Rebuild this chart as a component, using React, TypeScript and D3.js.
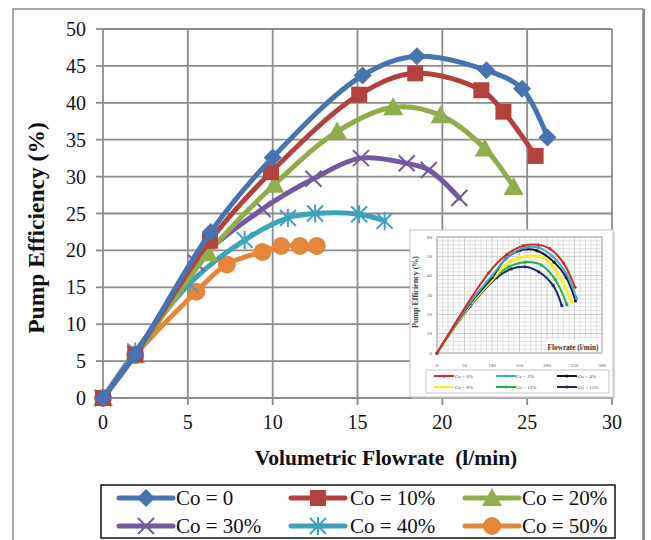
import React from "react";
import * as d3 from "d3";

// ---------- main chart data ----------
const xTicks = [0, 5, 10, 15, 20, 25, 30];
const yTicks = [0, 5, 10, 15, 20, 25, 30, 35, 40, 45, 50];

const flowCo0 = [0, 1.9, 6.35, 10, 15.3, 18.5, 22.6, 24.7, 26.2];
const effCo0 = [0, 5.9, 22.5, 32.6, 43.7, 46.3, 44.4, 41.9, 35.3];
const flowCo10 = [0, 1.9, 6.3, 9.9, 15.1, 18.4, 22.3, 23.6, 25.5];
const effCo10 = [0, 5.9, 21.3, 30.6, 41.1, 44.0, 41.7, 38.8, 32.8];
const flowCo20 = [0, 1.9, 6.2, 10.1, 13.8, 17.1, 19.9, 22.5, 24.2];
const effCo20 = [0, 5.8, 19.6, 28.9, 36.1, 39.4, 38.3, 33.8, 28.6];
const flowCo30 = [0, 1.9, 5.5, 9.4, 12.4, 15.2, 17.9, 19.2, 21.0];
const effCo30 = [0, 6.0, 18.3, 25.6, 29.7, 32.5, 31.8, 30.9, 27.1];
const flowCo40 = [0, 1.9, 5.1, 8.35, 10.9, 12.5, 15.1, 16.6];
const effCo40 = [0, 6.3, 15.5, 21.4, 24.4, 25.0, 24.9, 24.0];
const flowCo50 = [0, 1.9, 5.5, 7.3, 9.4, 10.5, 11.6, 12.6];
const effCo50 = [0, 5.8, 14.4, 18.1, 19.8, 20.6, 20.6, 20.6];

const seriesNames = ["Co = 0", "Co = 10%", "Co = 20%", "Co = 30%", "Co = 40%", "Co = 50%"];
const seriesColors = ["#4674B0", "#B3423F", "#8DAE4B", "#7559A0", "#3EA2BE", "#E5863A"];
const seriesMarkers = ["diamond", "square", "triangle", "x", "asterisk", "circle"];

// ---------- inset chart data ----------
const inXTicks = [0, 50, 100, 150, 200, 250, 300];
const inYTicks = [0, 10, 20, 30, 40, 50, 60];
const inFlow0 = [0, 94, 127, 157, 184, 205, 230, 251];
const inEff0 = [0, 41.5, 51, 55.5, 56, 54, 46.5, 34];
const inFlow2 = [0, 60, 100, 130, 160, 185, 210, 235, 254];
const inEff2 = [0, 26, 40, 50, 54.5, 54.5, 50, 41, 28];
const inFlow4 = [0, 60, 100, 125, 150, 181, 213, 235, 252];
const inEff4 = [0, 25.5, 39, 48.7, 53, 53, 47, 39, 27];
const inFlow8 = [0, 60, 100, 130, 165, 195, 220, 245];
const inEff8 = [0, 25, 38, 46.5, 50, 49, 41, 26];
const inFlow12 = [0, 60, 100, 130, 160, 190, 215, 236];
const inEff12 = [0, 24.5, 37.5, 44.5, 47, 45.5, 38, 25];
const inFlow15 = [0, 60, 109, 135, 160, 185, 211, 227];
const inEff15 = [0, 24, 39, 43.5, 44.6, 42, 35, 24.5];
const inNames = ["Co = 0%", "Co = 2%", "Co = 4%", "Co = 8%", "Co = 12%", "Co = 15%"];
const inColors = ["#D42A26", "#3AA9E0", "#151515", "#F2EE2A", "#25AE4E", "#1C2B6E"];

const FONT = "'Liberation Serif', 'Times New Roman', Times, serif";

function Marker({ type, x, y, color }: { type: string; x: number; y: number; color: string }) {
  if (type === "diamond") {
    const s = 9;
    return <path d={`M${x},${y - s}L${x + s},${y}L${x},${y + s}L${x - s},${y}Z`} fill={color} />;
  }
  if (type === "square") {
    const s = 8;
    return <rect x={x - s} y={y - s} width={2 * s} height={2 * s} fill={color} />;
  }
  if (type === "triangle") {
    const s = 9;
    return <path d={`M${x},${y - s - 1}L${x + s + 1},${y + s - 1}L${x - s - 1},${y + s - 1}Z`} fill={color} />;
  }
  if (type === "x") {
    const s = 8;
    return (
      <path d={`M${x - s},${y - s}L${x + s},${y + s}M${x - s},${y + s}L${x + s},${y - s}`} stroke={color} strokeWidth={2} fill="none" />
    );
  }
  if (type === "asterisk") {
    const s = 8;
    return (
      <path
        d={`M${x - s},${y - s}L${x + s},${y + s}M${x - s},${y + s}L${x + s},${y - s}M${x},${y - s - 1}L${x},${y + s + 1}`}
        stroke={color}
        strokeWidth={2}
        fill="none"
      />
    );
  }
  return <circle cx={x} cy={y} r={9} fill={color} />;
}

export default function App() {
  const x = d3.scaleLinear().domain([0, 30]).range([103, 612]);
  const y = d3.scaleLinear().domain([0, 50]).range([398, 29]);

  const flows = [flowCo0, flowCo10, flowCo20, flowCo30, flowCo40, flowCo50];
  const effs = [effCo0, effCo10, effCo20, effCo30, effCo40, effCo50];
  const series = flows.map((f, i) => f.map((v, j) => [v, effs[i][j]] as [number, number]));

  const line = d3
    .line<[number, number]>()
    .x((d) => x(d[0]))
    .y((d) => y(d[1]))
    .curve(d3.curveCatmullRom.alpha(0.5));

  // inset
  const xi = d3.scaleLinear().domain([0, 300]).range([437, 602]);
  const yi = d3.scaleLinear().domain([0, 60]).range([353, 237]);
  const inFlows = [inFlow0, inFlow2, inFlow4, inFlow8, inFlow12, inFlow15];
  const inEffs = [inEff0, inEff2, inEff4, inEff8, inEff12, inEff15];
  const inSeries = inFlows.map((f, i) => f.map((v, j) => [v, inEffs[i][j]] as [number, number]));
  const inLine = d3
    .line<[number, number]>()
    .x((d) => xi(d[0]))
    .y((d) => yi(d[1]))
    .curve(d3.curveCatmullRom.alpha(0.5));
  const inMinorX = d3.range(0, 301, 10);
  const inMinorY = d3.range(0, 61, 2);

  const gridColor = "#8c8c8c";
  const legendCols = [
    { lx: 119, tx: 176 },
    { lx: 291, tx: 350 },
    { lx: 465, tx: 522 },
  ];
  const legendRows = [498, 526];

  const inLegCols = [
    { lx: 434, tx: 455 },
    { lx: 496, tx: 516 },
    { lx: 557, tx: 578 },
  ];
  const inLegRows = [376, 387];

  return (
    <svg width={651} height={540} style={{ position: "absolute", left: 0, top: 0, background: "#fff" }} fontFamily={FONT}>
      <rect x={0} y={0} width={651} height={540} fill="#fff" />
      {/* outer frame */}
      <rect x={13} y={9} width={630} height={545} fill="none" stroke="#8a8a8a" strokeWidth={1.5} />
      <line x1={644} y1={9} x2={644} y2={540} stroke="#8a8a8a" strokeWidth={2} />

      {/* gridlines */}
      {yTicks.slice(1).map((t) => (
        <line key={"gy" + t} x1={x(0)} x2={x(30)} y1={y(t)} y2={y(t)} stroke={gridColor} strokeWidth={1.8} />
      ))}
      {xTicks.slice(1).map((t) => (
        <line key={"gx" + t} x1={x(t)} x2={x(t)} y1={y(0)} y2={y(50)} stroke={gridColor} strokeWidth={1.8} />
      ))}
      {/* axes */}
      <line x1={x(0)} x2={x(0)} y1={y(0)} y2={y(50)} stroke={gridColor} strokeWidth={1.8} />
      <line x1={x(0)} x2={x(30)} y1={y(0)} y2={y(0)} stroke={gridColor} strokeWidth={1.8} />
      {yTicks.map((t) => (
        <g key={"ty" + t}>
          <line x1={x(0) - 7} x2={x(0)} y1={y(t)} y2={y(t)} stroke={gridColor} strokeWidth={1.8} />
          <text x={86} y={y(t)} dy="0.35em" textAnchor="end" fontSize={20} fill="#111">
            {t}
          </text>
        </g>
      ))}
      {xTicks.map((t) => (
        <g key={"tx" + t}>
          <line x1={x(t)} x2={x(t)} y1={y(0)} y2={y(0) + 7} stroke={gridColor} strokeWidth={1.8} />
          <text x={x(t)} y={429} textAnchor="middle" fontSize={20} fill="#111">
            {t}
          </text>
        </g>
      ))}

      {/* axis titles */}
      <text x={386} y={465} textAnchor="middle" fontSize={21.5} fontWeight="bold" fill="#111" style={{ whiteSpace: "pre" }}>
        {"Volumetric Flowrate  (l/min)"}
      </text>
      <text
        transform={`translate(44,228) rotate(-90)`}
        textAnchor="middle"
        fontSize={23.5}
        fontWeight="bold"
        fill="#111"
      >
        Pump Efficiency (%)
      </text>

      {/* series (draw last-first so blue on top) */}
      {series
        .map((s, i) => ({ s, i }))
        .reverse()
        .map(({ s, i }) => (
          <g key={"s" + i}>
            <path d={line(s) || ""} fill="none" stroke={seriesColors[i]} strokeWidth={5} strokeLinejoin="round" strokeLinecap="round" />
            {s.map((d, j) => (
              <Marker key={j} type={seriesMarkers[i]} x={x(d[0])} y={y(d[1])} color={seriesColors[i]} />
            ))}
          </g>
        ))}

      {/* inset */}
      <g>
        <rect x={412} y={232} width={203} height={167} fill="#bdbdbd" opacity={0.6} />
        <rect x={410} y={230} width={203} height={167} fill="#fff" stroke="#c4c4c4" strokeWidth={1} />
        {inMinorX.map((t) => (
          <line key={"ix" + t} x1={xi(t)} x2={xi(t)} y1={yi(0)} y2={yi(60)} stroke={t % 50 === 0 ? "#b5b5b5" : "#d6d6d6"} strokeWidth={0.7} />
        ))}
        {inMinorY.map((t) => (
          <line key={"iy" + t} x1={xi(0)} x2={xi(300)} y1={yi(t)} y2={yi(t)} stroke={t % 10 === 0 ? "#b5b5b5" : "#d6d6d6"} strokeWidth={0.7} />
        ))}
        <rect x={xi(0)} y={yi(60)} width={xi(300) - xi(0)} height={yi(0) - yi(60)} fill="none" stroke="#a8a8a8" strokeWidth={0.8} />
        {inYTicks.map((t) => (
          <text key={"iyt" + t} x={432} y={yi(t)} dy="0.35em" textAnchor="end" fontSize={5} fill="#555">
            {t}
          </text>
        ))}
        {inXTicks.map((t) => (
          <text key={"ixt" + t} x={xi(t)} y={367} textAnchor="middle" fontSize={5} fill="#555">
            {t}
          </text>
        ))}
        <rect x={546} y={340} width={55} height={12} fill="#fff" />
        <text x={573} y={349.5} textAnchor="middle" fontSize={7.3} fontWeight="bold" fill="#333">
          Flowrate (l/min)
        </text>
        <text transform="translate(418,292) rotate(-90)" textAnchor="middle" fontSize={8} fontWeight="bold" fill="#444">
          Pump Efficiency (%)
        </text>
        {inSeries
          .map((s, i) => ({ s, i }))
          .reverse()
          .map(({ s, i }) => (
            <g key={"is" + i}>
              <path d={inLine(s) || ""} fill="none" stroke={inColors[i]} strokeWidth={i === 3 ? 3 : 2} strokeLinejoin="round" />
              {s.map((d, j) => (
                <circle key={j} cx={xi(d[0])} cy={yi(d[1])} r={1.6} fill={inColors[i]} />
              ))}
            </g>
          ))}
        <rect x={426} y={370} width={183} height={23} fill="#fff" stroke="#b0b0b0" strokeWidth={0.7} />
        {inNames.map((n, i) => {
          const c = inLegCols[i % 3];
          const ry = inLegRows[Math.floor(i / 3)];
          return (
            <g key={"il" + i}>
              <line x1={c.lx} x2={c.lx + 20} y1={ry} y2={ry} stroke={inColors[i]} strokeWidth={2} />
              <circle cx={c.lx + 10} cy={ry} r={1.6} fill={inColors[i]} />
              <text x={c.tx} y={ry} dy="0.35em" fontSize={5} fill="#444">
                {n}
              </text>
            </g>
          );
        })}
      </g>

      {/* legend */}
      <rect x={101} y={485} width={514} height={53} fill="#fff" stroke="#111" strokeWidth={1.5} />
      {seriesNames.map((n, i) => {
        const c = legendCols[i % 3];
        const ry = legendRows[Math.floor(i / 3)];
        return (
          <g key={"lg" + i}>
            <line x1={c.lx} x2={c.lx + 54} y1={ry} y2={ry} stroke={seriesColors[i]} strokeWidth={5} strokeLinecap="round" />
            <Marker type={seriesMarkers[i]} x={c.lx + 27} y={ry} color={seriesColors[i]} />
            <text x={c.tx} y={ry} dy="0.35em" fontSize={21} fill="#111">
              {n}
            </text>
          </g>
        );
      })}
    </svg>
  );
}
